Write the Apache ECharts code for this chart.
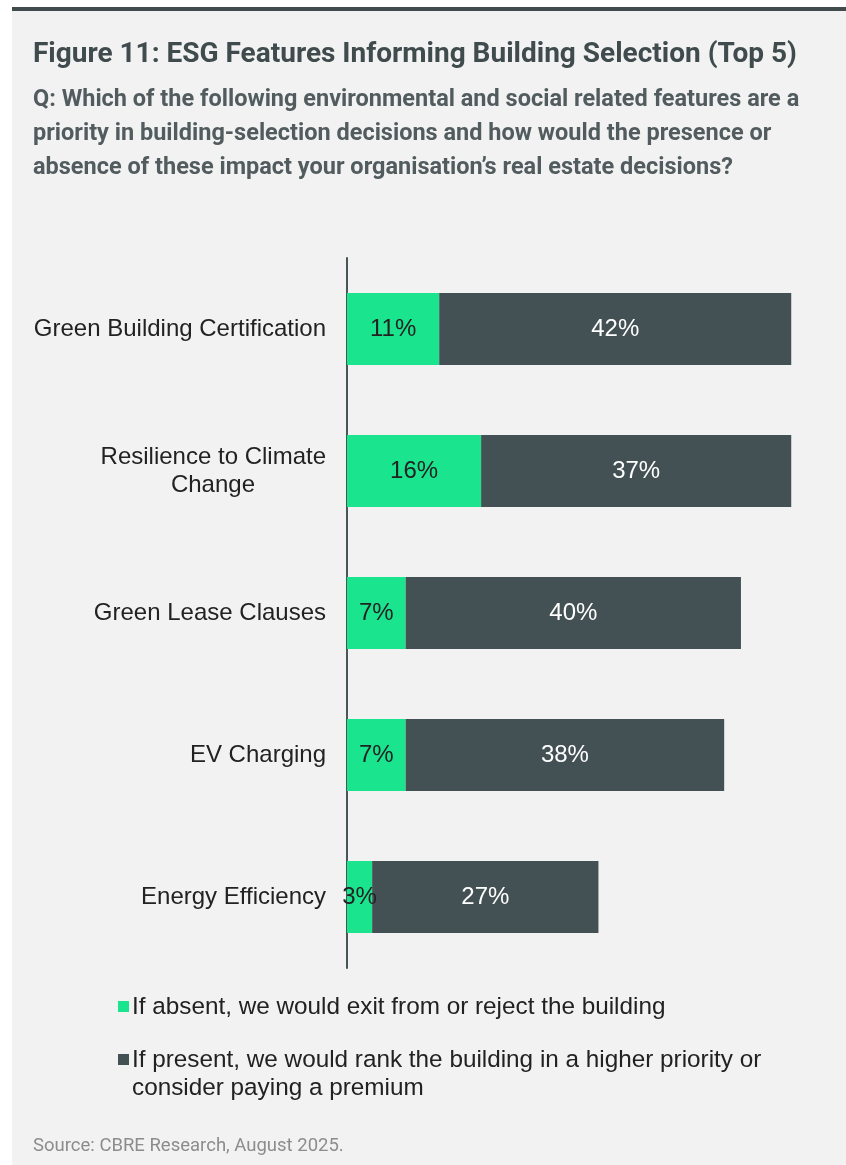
<!DOCTYPE html>
<html>
<head>
<meta charset="utf-8">
<script src="https://cdn.jsdelivr.net/npm/echarts@6/dist/echarts.min.js"></script>
<style>
  html, body { margin: 0; padding: 0; background: #ffffff; }
  #chart { width: 846px; height: 1165px; }
</style>
</head>
<body>
<div id="chart"></div>
<script>
// Building features, top to bottom
const categories = [
  'Green Building Certification',
  'Resilience to Climate Change',
  'Green Lease Clauses',
  'EV Charging',
  'Energy Efficiency'
];
// Share of respondents (%) who would exit / reject if the feature is absent
const absentReject = [11, 16, 7, 7, 3];
// Share of respondents (%) who would prioritise / pay a premium if present
const presentPremium = [42, 37, 40, 38, 27];

const seriesNames = [
  'If absent, we would exit from or reject the building',
  'If present, we would rank the building in a higher priority or consider paying a premium'
];
const legendLines = [
  ['If absent, we would exit from or reject the building'],
  ['If present, we would rank the building in a higher priority or', 'consider paying a premium']
];

const GREEN = '#1be48f';
const SLATE = '#435154';
const TEXT = '#222222';
const BODY_FONT = '"Liberation Sans", Arial, sans-serif';

const chart = echarts.init(document.getElementById('chart'), null, { renderer: 'canvas' });

// Legend drawn as swatch + wrapped text rows
const legendGraphics = [];
const legendTops = [993, 1046];
[GREEN, SLATE].forEach((c, i) => {
  legendGraphics.push({
    type: 'rect', left: 118, top: legendTops[i] + 8,
    shape: { width: 11, height: 11 }, style: { fill: c }
  });
  legendGraphics.push({
    type: 'text', left: 132, top: legendTops[i],
    style: {
      text: legendLines[i].join('\n'),
      font: '24.3px ' + BODY_FONT,
      fill: TEXT, lineHeight: 28
    }
  });
});

const option = {
  backgroundColor: '#ffffff',
  animation: false,
  graphic: [
    { type: 'rect', left: 12, top: 7, z: -10, shape: { width: 834, height: 1158 }, style: { fill: '#f2f2f2' } },
    { type: 'rect', left: 12, top: 7, z: -9, shape: { width: 834, height: 4 }, style: { fill: '#3f4b4d' } },
    ...legendGraphics
  ],
  title: [
    {
      text: 'Figure 11: ESG Features Informing Building Selection (Top 5)',
      left: 28, top: 36,
      textStyle: { fontFamily: 'Roboto', fontWeight: 'bold', fontSize: 28, color: '#3f4b4d' }
    },
    {
      text: 'Q: Which of the following environmental and social related features are a\npriority in building-selection decisions and how would the presence or\nabsence of these impact your organisation\u2019s real estate decisions?',
      left: 28, top: 78,
      textStyle: { fontFamily: 'Roboto', fontWeight: 'bold', fontSize: 23.5, lineHeight: 34, color: '#525c5e' }
    },
    {
      text: 'Source: CBRE Research, August 2025.',
      left: 28, top: 1132,
      textStyle: { fontFamily: 'Roboto', fontWeight: 'normal', fontSize: 18.5, color: '#8c8c8c' }
    }
  ],
  grid: { left: 347, top: 258, width: 461, height: 710, containLabel: false },
  xAxis: {
    type: 'value', min: 0, max: 55, show: false
  },
  yAxis: {
    type: 'category',
    data: categories,
    inverse: true,
    axisLine: { show: true, lineStyle: { color: '#4a5557', width: 2 } },
    axisTick: { show: false },
    axisLabel: {
      margin: 21,
      fontFamily: BODY_FONT,
      fontSize: 24,
      color: TEXT,
      lineHeight: 28,
      formatter: function (v) {
        if (v === 'Resilience to Climate Change') {
          return '{a|Resilience to Climate}\n{b|Change}';
        }
        return v;
      },
      rich: {
        a: { fontFamily: BODY_FONT, fontSize: 24, color: TEXT, lineHeight: 28 },
        b: { fontFamily: BODY_FONT, fontSize: 24, color: TEXT, lineHeight: 28, padding: [0, 71, 0, 0] }
      }
    }
  },
  series: [
    {
      name: seriesNames[0],
      type: 'bar',
      stack: 'total',
      data: absentReject,
      barWidth: 72,
      itemStyle: { color: GREEN },
      label: {
        show: true, position: 'inside', formatter: '{c}%',
        fontFamily: BODY_FONT, fontSize: 24, color: TEXT
      }
    },
    {
      name: seriesNames[1],
      type: 'bar',
      stack: 'total',
      data: presentPremium,
      barWidth: 72,
      itemStyle: { color: SLATE },
      label: {
        show: true, position: 'inside', formatter: '{c}%',
        fontFamily: BODY_FONT, fontSize: 24, color: '#ffffff'
      }
    }
  ]
};

chart.setOption(option);
</script>
</body>
</html>
